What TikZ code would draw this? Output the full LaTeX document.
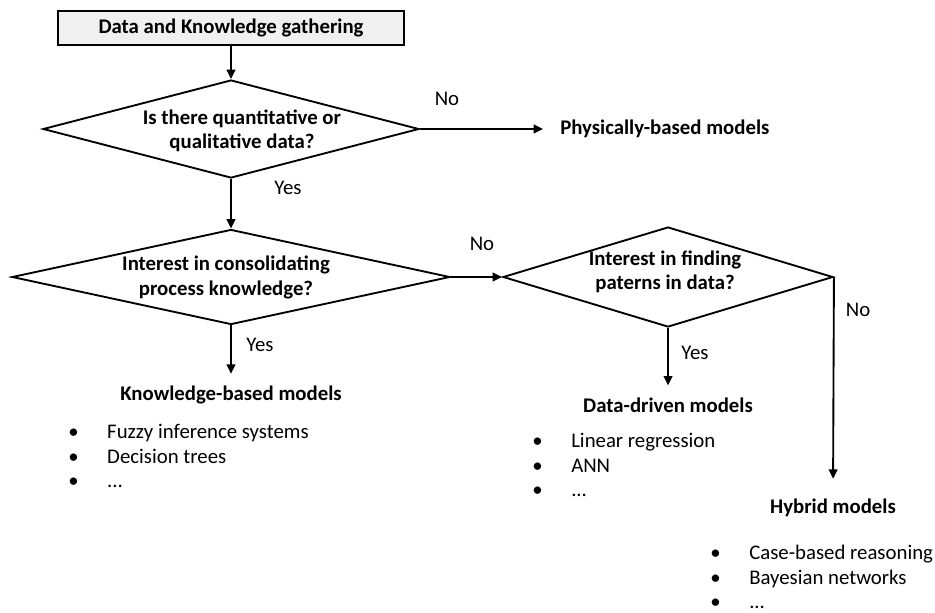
\documentclass[tikz,border=0pt]{standalone}
\usepackage{fontspec}
\setmainfont{Carlito}
\usetikzlibrary{positioning, arrows.meta, shapes.geometric}
\newcommand{\chartfont}{\fontsize{15.6pt}{18.2pt}\selectfont}
\newcommand{\flowarrow}{-{Triangle[length=7pt,width=6.5pt]}}
\newcommand{\itembullet}{\makebox[29.25pt][l]{\textbullet}}

\begin{document}
\begin{tikzpicture}[x=0.75pt, y=-0.75pt,
        decision/.style={diamond, draw, line width=1.4pt, inner sep=0pt},
        startbox/.style={draw, line width=1.4pt, fill=gray!12, minimum width=260pt,
            minimum height=25.5pt, font=\chartfont\bfseries},
        question/.style={align=center, inner sep=0pt, font=\chartfont\bfseries},
        modeltitle/.style={inner sep=0pt, font=\chartfont\bfseries},
        answer/.style={inner sep=0pt, font=\chartfont},
        itemlist/.style={align=left, anchor=west, inner sep=0pt, font=\chartfont}]
        \useasboundingbox (0,0) rectangle (935,612);
        \node[startbox] (gather) at (231,28) {Data and Knowledge gathering};
        \node[decision, minimum width=282pt, minimum height=73.5pt] (dataq) at (231,129) {};
        \node[question] (dataqtext) at (242,131) {Is there quantitative or\\qualitative data?};
        \node[modeltitle, anchor=west] (physical) at (560,129) {Physically-based models};
        \node[decision, minimum width=328.5pt, minimum height=71.25pt] (knowq) at (231,277) {};
        \node[question] (knowqtext) at (226,277.5) {Interest in consolidating\\process knowledge?};
        \node[decision, minimum width=247.5pt, minimum height=75pt] (patq) at (668,277) {};
        \node[question] (patqtext) at (665,272) {Interest in finding\\paterns in data?};
        \node[modeltitle] (knowmodels) at (231,395) {Knowledge-based models};
        \node[modeltitle] (datamodels) at (668,405) {Data-driven models};
        \node[modeltitle] (hybridmodels) at (833,508) {Hybrid models};

        % connectors
        \draw[\flowarrow, line width=1.4pt] (gather) -- (dataq);
        \draw[\flowarrow, line width=1.4pt] (dataq) -- (knowq);
        \draw[\flowarrow, line width=1.4pt, shorten >=12.75pt] (dataq) -- (physical);
        \draw[\flowarrow, line width=1.4pt] (knowq) -- (patq);
        \draw[\flowarrow, line width=1.4pt, shorten >=9pt] (knowq) -- (knowmodels);
        \draw[\flowarrow, line width=1.4pt, shorten >=9pt] (patq) -- (datamodels);
        \draw[\flowarrow, line width=1.4pt, shorten >=15pt] (patq.east) -- (hybridmodels.north);

        % answers
        \node[answer] (no1) at (447,99) {No};
        \node[answer] (yes1) at (288,188) {Yes};
        \node[answer] (no2) at (482,244) {No};
        \node[answer] (yes2) at (260,345) {Yes};
        \node[answer] (yes3) at (695,353) {Yes};
        \node[answer] (no3) at (858,310) {No};

        % model examples
        \node[itemlist] (knowlist) at (68,456) {\itembullet Fuzzy inference systems\\
            \itembullet Decision trees\\ \itembullet ...};
        \node[itemlist] (datalist) at (532,465) {\itembullet Linear regression\\
            \itembullet ANN\\ \itembullet ...};
        \node[itemlist] (hybridlist) at (710,577) {\itembullet Case-based reasoning\\
            \itembullet Bayesian networks\\ \itembullet ...};
    \end{tikzpicture}
\end{document}
